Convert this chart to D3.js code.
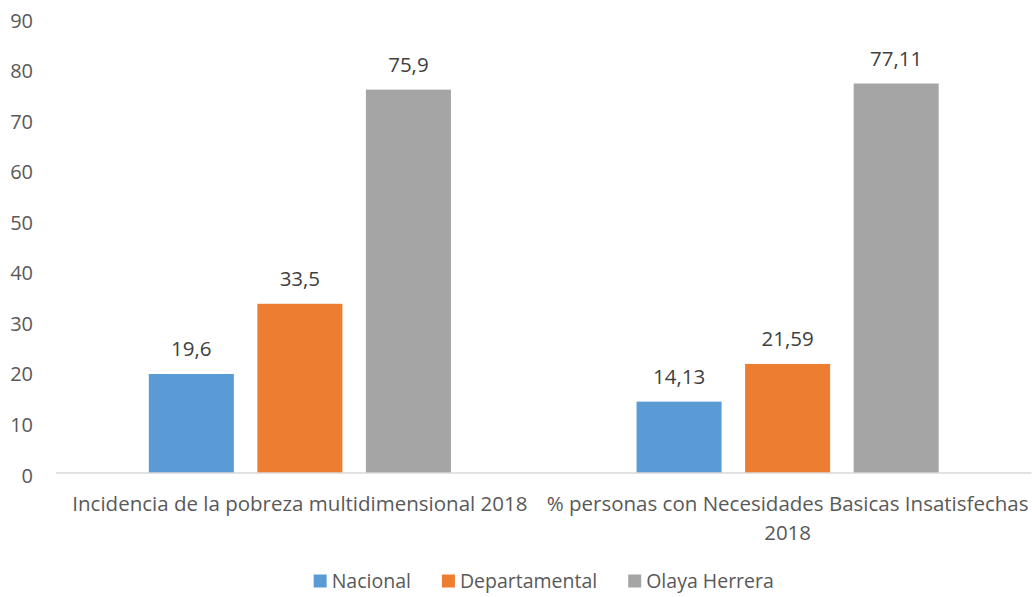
<!DOCTYPE html>
<html>
<head>
<meta charset="utf-8">
<script src="https://cdn.jsdelivr.net/npm/d3@7"></script>
<style>
  body { margin: 0; background: #fff; }
  svg { display: block; font-family: "Open Sans", "Liberation Sans", sans-serif; }
</style>
</head>
<body>
<svg id="chart" width="1032" height="597"></svg>
<script>
const categories = [
    ["Incidencia de la pobreza multidimensional 2018"],
    ["% personas con Necesidades Basicas Insatisfechas", "2018"]
];
const seriesNames = ["Nacional", "Departamental", "Olaya Herrera"];
const nacional = [19.6, 14.13];
const departamental = [33.5, 21.59];
const olaya = [75.9, 77.11];
const valueLabels = [["19,6", "14,13"], ["33,5", "21,59"], ["75,9", "77,11"]];
const yTicks = [0, 10, 20, 30, 40, 50, 60, 70, 80, 90];
const colors = ["#5b9bd5", "#ed7d31", "#a5a5a5"];

const seriesValues = [nacional, departamental, olaya];

const svg = d3.select("#chart");
const plotLeft = 56, plotRight = 1031.5, plotTop = 18.4, plotBottom = 473;

const y = d3.scaleLinear().domain([0, 90]).range([plotBottom, plotTop]);
const x0 = d3.scaleBand().domain(d3.range(categories.length)).range([plotLeft, plotRight]);
const x1 = d3.scaleBand().domain(d3.range(seriesNames.length))
    .range([0, x0.bandwidth()]).paddingInner(0.2166).paddingOuter(0.855);

// y axis labels only (no gridlines)
const yAxis = d3.axisLeft(y).tickValues(yTicks).tickSize(0).tickPadding(0);
const yG = svg.append("g").attr("transform", "translate(33,0)").call(yAxis);
yG.select(".domain").remove();
yG.selectAll("text").attr("fill", "#595959").attr("dy", "0.45em")
    .style("font-size", "20px")
    .style("font-family", "'Open Sans', sans-serif");

// bars
seriesValues.forEach(function(vals, s) {
    svg.append("g").selectAll("rect")
        .data(vals)
        .enter()
        .append("rect")
        .attr("x", (d, i) => x0(i) + x1(s))
        .attr("y", d => y(d))
        .attr("width", x1.bandwidth())
        .attr("height", d => plotBottom - y(d))
        .attr("fill", colors[s]);

    svg.append("g").selectAll("text")
        .data(vals)
        .enter()
        .append("text")
        .attr("x", (d, i) => x0(i) + x1(s) + x1.bandwidth() / 2)
        .attr("y", d => y(d) - 18)
        .attr("text-anchor", "middle")
        .attr("fill", "#404040")
        .style("font-size", "20.5px")
        .text((d, i) => valueLabels[s][i]);
});

// x axis line
svg.append("line")
    .attr("x1", plotLeft).attr("x2", plotRight)
    .attr("y1", plotBottom).attr("y2", plotBottom)
    .attr("stroke", "#d9d9d9").attr("stroke-width", 1.5);

// category labels
const catG = svg.append("g");
categories.forEach(function(lines, i) {
    lines.forEach(function(line, j) {
        catG.append("text")
            .attr("x", x0(i) + x0.bandwidth() / 2)
            .attr("y", 511 + j * 29)
            .attr("text-anchor", "middle")
            .attr("fill", "#595959")
            .style("font-size", "20.5px")
            .text(line);
    });
});

// legend
const legend = svg.append("g");
let lx = 0;
seriesNames.forEach(function(name, s) {
    const item = legend.append("g").attr("transform", `translate(${lx},0)`);
    item.append("rect").attr("x", 0).attr("y", -6.5).attr("width", 13).attr("height", 13)
        .attr("fill", colors[s]);
    const t = item.append("text").attr("x", 18).attr("y", 7)
        .attr("fill", "#595959").style("font-size", "19.5px").text(name);
    lx += 18 + t.node().getComputedTextLength() + 31;
});
const legendW = lx - 31;
legend.attr("transform", `translate(${(plotLeft + plotRight) / 2 - legendW / 2},581)`);
</script>
</body>
</html>
